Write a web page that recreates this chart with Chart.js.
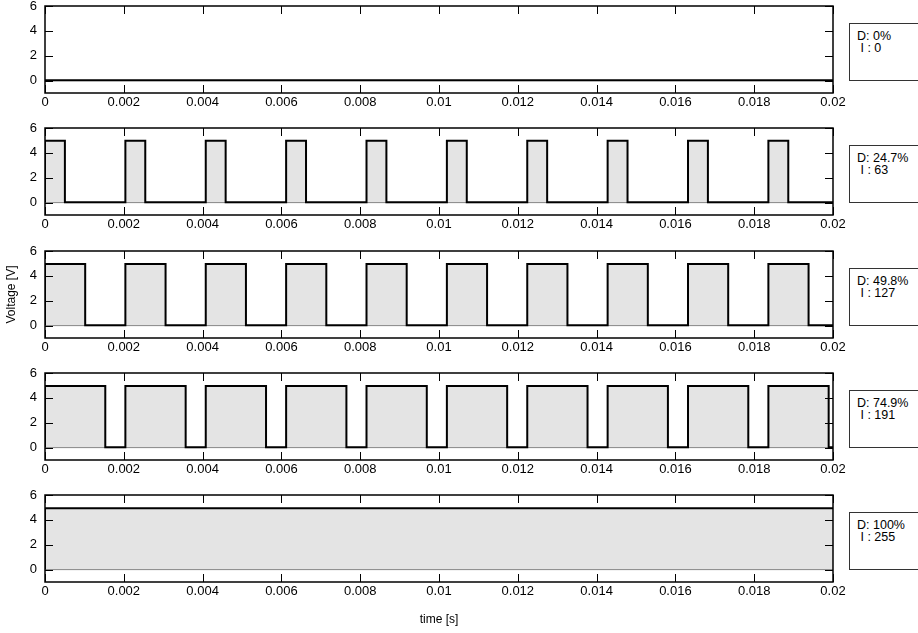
<!DOCTYPE html>
<html>
<head>
<meta charset="utf-8">
<title>PWM duty cycle</title>
<script src="https://cdn.jsdelivr.net/npm/chart.js@4.4.1/dist/chart.umd.min.js"></script>
<style>
  html, body { margin: 0; padding: 0; background: #fff; overflow: hidden; }
  #wrap { position: relative; width: 918px; height: 633px; overflow: hidden; }
  canvas.panel { position: absolute; left: 0; }
  .info {
    position: absolute; left: 849px; width: 90px; height: 58px;
    box-sizing: border-box; border: 1px solid #333; background: #fff;
    padding: 6px 0 0 7px;
    font: 12.5px "Liberation Sans", Arial, sans-serif; line-height: 12px; color: #000;
    white-space: pre;
  }
</style>
</head>
<body>
<div id="wrap"></div>
<script>
/* PWM scope captures - one panel per duty cycle */

// axis ticks
const xTicks = [0, 0.002, 0.004, 0.006, 0.008, 0.01, 0.012, 0.014, 0.016, 0.018, 0.02];
const xTickLabels = ['0', '0.002', '0.004', '0.006', '0.008', '0.01', '0.012', '0.014', '0.016', '0.018', '0.02'];
const yTicks = [0, 2, 4, 6];
const yTickLabels = ['0', '2', '4', '6'];

// one entry per panel
const dutyLabels = ['0%', '24.7%', '49.8%', '74.9%', '100%'];
const pwmValues = [0, 63, 127, 191, 255];
const highLevel = [0, 4.98, 4.95, 4.95, 4.93];
const lowLevel = [0.03, 0.03, 0.03, 0.03, 0.03];

// edge times (s)
const riseTimes = [
    [],
    [0, 0.00204, 0.00408, 0.00612, 0.00816, 0.0102, 0.01224, 0.01428, 0.01632, 0.01836],
    [0, 0.00204, 0.00408, 0.00612, 0.00816, 0.0102, 0.01224, 0.01428, 0.01632, 0.01836],
    [0, 0.00204, 0.00408, 0.00612, 0.00816, 0.0102, 0.01224, 0.01428, 0.01632, 0.01836],
    [0]
];
const fallTimes = [
    [],
    [0.000505, 0.002545, 0.004585, 0.006625, 0.008665, 0.010705, 0.012745, 0.014785, 0.016825, 0.018865],
    [0.00102, 0.00306, 0.0051, 0.00714, 0.00918, 0.01122, 0.01326, 0.0153, 0.01734, 0.01938],
    [0.00153, 0.00357, 0.00561, 0.00765, 0.00969, 0.01173, 0.01377, 0.01581, 0.01785, 0.01989],
    []
];

const FONT = '"Liberation Sans", Arial, sans-serif';
const TICK = 8;
const panelTops = [6, 128, 251, 373, 495];

function buildTrace(i) {
    const edges = [];
    riseTimes[i].forEach(t => edges.push([t, highLevel[i]]));
    fallTimes[i].forEach(t => edges.push([t, lowLevel[i]]));
    edges.sort((a, b) => a[0] - b[0]);

    let level = lowLevel[i];
    const pts = [{ x: 0, y: level }];
    edges.forEach(([t, v]) => {
        pts.push({ x: t, y: level });
        level = v;
        pts.push({ x: t, y: level });
    });
    pts.push({ x: 0.02, y: level });
    return pts;
}

// box round the plot with inward ticks on all four sides
const framePlugin = {
    id: 'frame',
    afterDatasetsDraw(chart) {
        const { ctx, chartArea: a, scales: { x, y } } = chart;
        ctx.save();
        ctx.strokeStyle = '#000';
        ctx.lineWidth = 1;
        ctx.beginPath();
        xTicks.forEach(v => {
            const px = Math.round(x.getPixelForValue(v)) + 0.5;
            ctx.moveTo(px, a.top); ctx.lineTo(px, a.top + TICK);
            ctx.moveTo(px, a.bottom); ctx.lineTo(px, a.bottom - TICK);
        });
        yTicks.forEach(v => {
            const py = Math.round(y.getPixelForValue(v)) + 0.5;
            ctx.moveTo(a.left, py); ctx.lineTo(a.left + TICK, py);
            ctx.moveTo(a.right, py); ctx.lineTo(a.right - TICK, py);
        });
        ctx.stroke();
        ctx.lineWidth = 1.5;
        ctx.strokeRect(a.left, a.top, a.right - a.left, a.bottom - a.top);
        ctx.restore();
    }
};

function createPanel(i) {
    const wrap = document.getElementById('wrap');
    const last = i === panelTops.length - 1;
    const top = panelTops[i] - 6;
    const height = last ? 633 - top : 122;

    const canvas = document.createElement('canvas');
    canvas.className = 'panel';
    canvas.width = 918;
    canvas.height = height;
    canvas.style.top = top + 'px';
    wrap.appendChild(canvas);

    const info = document.createElement('div');
    info.className = 'info';
    info.style.top = (panelTops[i] + 17) + 'px';
    info.textContent = 'D: ' + dutyLabels[i] + '\n I : ' + pwmValues[i];
    wrap.appendChild(info);

    new Chart(canvas.getContext('2d'), {
        type: 'line',
        data: {
            datasets: [
                {
                    data: buildTrace(i),
                    borderColor: '#000',
                    borderWidth: 2,
                    backgroundColor: '#e4e4e4',
                    fill: 'origin',
                    pointRadius: 0,
                    tension: 0,
                    order: 1
                },
                {
                    data: [{ x: 0, y: 0 }, { x: 0.02, y: 0 }],
                    borderColor: '#333',
                    borderWidth: 1,
                    pointRadius: 0,
                    fill: false,
                    order: 2
                }
            ]
        },
        options: {
            responsive: false,
            animation: false,
            events: [],
            layout: { padding: { top: 6, right: 85, left: 0, bottom: 0 } },
            plugins: { legend: { display: false }, tooltip: { enabled: false } },
            scales: {
                x: {
                    type: 'linear',
                    min: 0,
                    max: 0.02,
                    grid: { display: false, drawTicks: false },
                    border: { display: false },
                    afterBuildTicks: s => { s.ticks = xTicks.map(v => ({ value: v })); },
                    afterFit: s => {
                        s.height = height - 93;
                        s.paddingLeft = 0; s.paddingRight = 0;
                    },
                    ticks: {
                        autoSkip: false,
                        maxRotation: 0,
                        padding: 2,
                        color: '#000',
                        font: { family: FONT, size: 13 },
                        callback: (v, idx) => xTickLabels[idx]
                    },
                    title: {
                        display: last,
                        text: 'time [s]',
                        color: '#000',
                        font: { family: FONT, size: 12 },
                        padding: { top: 0, bottom: 6 }
                    }
                },
                y: {
                    type: 'linear',
                    min: -1,
                    max: 6,
                    grid: { display: false, drawTicks: false },
                    border: { display: false },
                    afterBuildTicks: s => { s.ticks = yTicks.map(v => ({ value: v })); },
                    afterFit: s => {
                        s.width = 45;
                        s.paddingTop = 0; s.paddingBottom = 0;
                    },
                    ticks: {
                        padding: 8,
                        color: '#000',
                        font: { family: FONT, size: 13 },
                        callback: (v, idx) => yTickLabels[idx]
                    },
                    title: {
                        display: i === 2,
                        text: 'Voltage [V]',
                        color: '#000',
                        font: { family: FONT, size: 12 },
                        padding: { top: 4, bottom: 0 }
                    }
                }
            }
        },
        plugins: [framePlugin]
    });
}

panelTops.forEach((t, i) => createPanel(i));
</script>
</body>
</html>
